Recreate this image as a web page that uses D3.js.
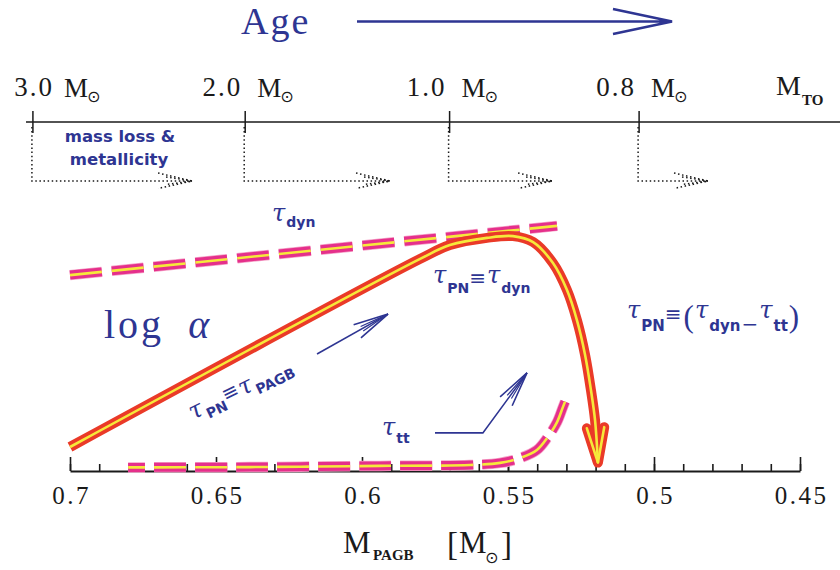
<!DOCTYPE html>
<html><head><meta charset="utf-8">
<script src="https://cdn.jsdelivr.net/npm/d3@7"></script>
<style>
html,body{margin:0;padding:0;background:#fff;}
svg{display:block;}
</style></head><body>
<svg id="chart" width="840" height="570"></svg>
<script>
// ---------------- data ----------------
const xTickValues = [0.7, 0.65, 0.6, 0.55, 0.5, 0.45];
const xTickLabels = ["0.7", "0.65", "0.6", "0.55", "0.5", "0.45"];
const turnoffLabels = ["3.0", "2.0", "1.0", "0.8"];
const turnoffFinalMass = [0.7127, 0.640, 0.570, 0.5051];   // M_PAGB reached by each turn-off mass
const shiftedFinalMass = [0.6582, 0.5904, 0.5349, 0.4815];  // shift due to mass loss & metallicity

// tau_PN (solid red/yellow curve)
const pnMass     = [0.7000, 0.5801, 0.5699, 0.5572, 0.5483, 0.5414, 0.5346, 0.5298, 0.5264, 0.5236, 0.5216, 0.5202, 0.5192];
const pnLogAlpha = [0.80,   7.07,   7.53,   7.77,   7.83,   7.63,   6.93,   6.03,   5.03,   3.87,   2.70,   1.70,   0.28];

// tau_dyn (dashed, upper)
const dynMass     = [0.7000, 0.5332];
const dynLogAlpha = [6.53,   8.17];

// tau_tt (dashed, lower)
const ttMass     = [0.6801, 0.6384, 0.5938, 0.5630, 0.5527, 0.5459, 0.5401, 0.5366, 0.5332, 0.5312, 0.5295];
const ttLogAlpha = [0.12,   0.13,   0.17,   0.20,   0.27,   0.43,   0.70,   1.10,   1.63,   2.13,   2.55];

// annotation arrows (data space)
const pagbArrow = [[0.6154, 3.90], [0.5911, 5.23]];
const ttArrow   = [[0.5750, 1.27], [0.5586, 1.27], [0.5435, 3.27]];

// ---------------- setup ----------------
const BLUE = "#2e3592", RED = "#ea3a28", MAG = "#e5308b", YEL = "#f6e93a", INK = "#1a1a1a";
const svg = d3.select("#chart");
const x = d3.scaleLinear().domain([0.7, 0.45]).range([70, 800]);
const y = d3.scaleLinear().domain([0, 10]).range([471, 171]);
const zip = (a, b) => a.map((v, i) => [v, b[i]]);

const lineLin = d3.line().x(d => x(d[0])).y(d => y(d[1]));
const lineSmooth = d3.line().x(d => x(d[0])).y(d => y(d[1])).curve(d3.curveCatmullRom.alpha(0.5));

// ---------------- top: Age arrow ----------------
svg.append("text").attr("x", 241).attr("y", 34).attr("fill", BLUE)
  .style("font-family", "Liberation Serif").style("font-size", "38px").style("letter-spacing", "2px").text("Age");
svg.append("path").attr("d", "M357,21.5H672M613,9L672,21.5L613,34")
  .attr("fill", "none").attr("stroke", BLUE).attr("stroke-width", 2.6);

// ---------------- top axis (turn-off mass) ----------------
const topY = 122;
svg.append("line").attr("x1", 26).attr("x2", 840).attr("y1", topY).attr("y2", topY)
  .attr("stroke", INK).attr("stroke-width", 1.5);
turnoffLabels.forEach((lab, i) => {
  const tx = x(turnoffFinalMass[i]);
  svg.append("line").attr("x1", tx).attr("x2", tx).attr("y1", topY - 11).attr("y2", topY + 11)
    .attr("stroke", INK).attr("stroke-width", 1.5);
  const numEnd = Math.max(tx - 5, 52);
  svg.append("text").attr("x", numEnd + 2).attr("y", 96).attr("text-anchor", "end").attr("fill", INK)
    .style("font-family", "Liberation Serif").style("font-size", "27px").style("letter-spacing", "2px").text(lab);
  const mX = numEnd + (i === 0 ? 12 : 17);
  svg.append("text").attr("x", mX).attr("y", 97).attr("fill", INK)
    .style("font-family", "Liberation Serif").style("font-size", "27px").text("M");
  svg.append("text").attr("x", mX + 23).attr("y", 102).attr("fill", INK)
    .style("font-family", "DejaVu Sans").style("font-size", "16px").text("⊙");
  // dotted shift arrow
  const x2 = x(shiftedFinalMass[i]), yy = 181;
  const dotted = svg.append("g").attr("fill", "none").attr("stroke", INK)
    .attr("stroke-width", 1.5).attr("stroke-dasharray", "1.5,2.6");
  dotted.append("path").attr("d", `M${tx - 1},${topY + 5}V${yy}H${x2}`);
  dotted.append("path").attr("d", `M${x2 - 34},${yy - 8}L${x2},${yy}L${x2 - 34},${yy + 7.5}`);
  dotted.append("path").attr("d", `M${x2 - 26},${yy - 4}L${x2},${yy}L${x2 - 26},${yy + 3.5}`);
});
svg.append("text").attr("x", 776).attr("y", 95).attr("fill", INK)
  .style("font-family", "Liberation Serif").style("font-size", "28px").text("M");
svg.append("text").attr("x", 802).attr("y", 105).attr("fill", INK)
  .style("font-family", "Liberation Serif").style("font-weight", "bold").style("font-size", "15px").text("TO");

svg.append("text").attr("x", 120).attr("y", 142).attr("text-anchor", "middle").attr("fill", BLUE)
  .style("font-family", "DejaVu Sans").style("font-weight", "bold").style("font-size", "16.5px").text("mass loss &");
svg.append("text").attr("x", 119).attr("y", 165).attr("text-anchor", "middle").attr("fill", BLUE)
  .style("font-family", "DejaVu Sans").style("font-weight", "bold").style("font-size", "16.5px").text("metallicity");

// ---------------- bottom axis ----------------
const axisG = svg.append("g").attr("transform", `translate(0,${y(0)})`);
axisG.append("g").call(d3.axisBottom(x).tickValues(d3.range(0.45, 0.7001, 0.01)).tickSizeInner(-7).tickSizeOuter(0).tickFormat(""))
  .call(g => g.select(".domain").remove());
const major = axisG.append("g").call(d3.axisBottom(x).tickValues(xTickValues)
  .tickFormat((d, i) => xTickLabels[i]).tickSizeInner(-14).tickSizeOuter(0).tickPadding(15));
axisG.selectAll("line").attr("stroke", INK).attr("stroke-width", 1.6);
major.select(".domain").attr("stroke", INK).attr("stroke-width", 1.8);
major.selectAll("text").attr("fill", INK).style("font-family", "Liberation Serif")
  .style("font-size", "25px").style("letter-spacing", "2.5px").attr("dx", "1px");

// axis title
const tt = (xx, yy, txt, fam, size, weight) => svg.append("text").attr("x", xx).attr("y", yy).attr("fill", INK)
  .style("font-family", fam).style("font-size", size + "px").style("font-weight", weight || "normal").text(txt);
tt(343, 553, "M", "Liberation Serif", 31);
tt(373, 560, "PAGB", "Liberation Serif", 15, "bold");
tt(447, 555, "[", "Liberation Serif", 33);
tt(459, 553, "M", "Liberation Serif", 31);
tt(485, 563, "⊙", "DejaVu Sans", 16);
tt(501, 555, "]", "Liberation Serif", 33);

// y label
const ly = svg.append("text").attr("x", 104).attr("y", 338).attr("fill", BLUE)
  .style("font-family", "Liberation Serif").style("font-size", "40px");
ly.append("tspan").style("letter-spacing", "3px").text("log");
ly.append("tspan").attr("dx", 24).style("font-style", "italic").text("α");

// ---------------- curves ----------------
function doubleStroke(path, outer, outerW, innerW, dash, offset, cap) {
  [[outer, outerW], [YEL, innerW]].forEach(([c, w]) => {
    svg.append("path").attr("d", path).attr("fill", "none").attr("stroke", c).attr("stroke-width", w)
      .attr("stroke-dasharray", dash || null).attr("stroke-dashoffset", offset || 0)
      .attr("stroke-linecap", cap || "butt").attr("stroke-linejoin", "round");
  });
}
// tau_dyn
svg.append("path").attr("d", lineLin(zip(dynMass, dynLogAlpha))).attr("fill", "none")
  .attr("stroke", "#f5a3c8").attr("stroke-width", 10.5).attr("stroke-dasharray", "32,10");
doubleStroke(lineLin(zip(dynMass, dynLogAlpha)), MAG, 9, 2.6, "32,10", 0);
// tau_tt
svg.append("path").attr("d", lineSmooth(zip(ttMass, ttLogAlpha))).attr("fill", "none")
  .attr("stroke", "#f5a3c8").attr("stroke-width", 10.5).attr("stroke-dasharray", "32,9").attr("stroke-dashoffset", 15);
doubleStroke(lineSmooth(zip(ttMass, ttLogAlpha)), MAG, 9, 2.6, "32,9", 15);

// tau_PN solid with arrowhead
const pnPts = zip(pnMass, pnLogAlpha);
const pnPath = lineSmooth(pnPts);
const tip = [x(pnMass[pnMass.length - 1]), y(pnLogAlpha[pnLogAlpha.length - 1])];
const prev = [x(pnMass[pnMass.length - 2]), y(pnLogAlpha[pnLogAlpha.length - 2])];
function wings(tipP, prevP, L, deg) {
  const a = Math.atan2(prevP[1] - tipP[1], prevP[0] - tipP[0]), r = deg * Math.PI / 180;
  return [[tipP[0] + L * Math.cos(a + r), tipP[1] + L * Math.sin(a + r)], tipP,
          [tipP[0] + L * Math.cos(a - r), tipP[1] + L * Math.sin(a - r)]];
}
const head = wings(tip, prev, 36, 14);
const headPath = d3.line()(head);
[[RED, 10], [YEL, 2.6]].forEach(([c, w]) => {
  svg.append("path").attr("d", pnPath).attr("fill", "none").attr("stroke", c).attr("stroke-width", w)
    .attr("stroke-linejoin", "round");
  svg.append("path").attr("d", headPath).attr("fill", "none").attr("stroke", c).attr("stroke-width", w)
    .attr("stroke-linejoin", "round").attr("stroke-linecap", "round");
});

// ---------------- annotation arrows ----------------
function blueArrow(pts) {
  const px = pts.map(p => [x(p[0]), y(p[1])]);
  svg.append("path").attr("d", d3.line()(px)).attr("fill", "none").attr("stroke", BLUE).attr("stroke-width", 1.6);
  const h = wings(px[px.length - 1], px[px.length - 2], 36, 12);
  svg.append("path").attr("d", d3.line()(h)).attr("fill", "none").attr("stroke", BLUE).attr("stroke-width", 1.6);
  const h2 = wings(px[px.length - 1], px[px.length - 2], 30, 5);
  svg.append("path").attr("d", d3.line()(h2)).attr("fill", "none").attr("stroke", BLUE).attr("stroke-width", 1.2);
}
blueArrow(pagbArrow);
blueArrow(ttArrow);

// ---------------- math labels ----------------
const FONTS = {
  tau: { family: "DejaVu Serif", size: 24, style: "italic" },
  sub: { family: "DejaVu Sans", size: 14, weight: "bold" },
  subL: { family: "DejaVu Sans", size: 15, weight: "bold" },
  eq: { family: "DejaVu Sans", size: 20 },
  par: { family: "Liberation Serif", size: 31 },
  minus: { family: "DejaVu Sans", size: 20 }
};
function mathLabel(x0, y0, rot, parts) {
  const t = svg.append("text").attr("transform", `translate(${x0},${y0}) rotate(${rot})`).attr("fill", BLUE);
  parts.forEach(p => {
    const f = FONTS[p.k];
    t.append("tspan").attr("y", p.y || 0).attr("dx", p.dx || 0)
      .style("font-family", f.family).style("font-size", f.size + "px")
      .style("font-style", f.style || "normal").style("font-weight", f.weight || "normal").text(p.t);
  });
}
mathLabel(272, 221, 0, [{ t: "τ", k: "tau" }, { t: "dyn", k: "sub", y: 6, dx: 1 }]);
mathLabel(433, 283, 0, [{ t: "τ", k: "tau" }, { t: "PN", k: "sub", y: 10, dx: 1 }, { t: "≡", k: "eq", y: 2 },
  { t: "τ", k: "tau", dx: 1 }, { t: "dyn", k: "sub", y: 10, dx: 1 }]);
mathLabel(627, 318, 0, [{ t: "τ", k: "tau" }, { t: "PN", k: "subL", y: 13, dx: 1 }, { t: "≡", k: "eq", y: 3 },
  { t: "(", k: "par", y: 9, dx: 2 }, { t: "τ", k: "tau", dx: 1 }, { t: "dyn", k: "subL", y: 13, dx: 1 },
  { t: "−", k: "minus", y: 13, dx: 1 }, { t: "τ", k: "tau", dx: 1 }, { t: "tt", k: "subL", y: 13, dx: 1 },
  { t: ")", k: "par", y: 9, dx: 1 }]);
mathLabel(382, 435, 0, [{ t: "τ", k: "tau" }, { t: "tt", k: "sub", y: 8, dx: 1 }]);
mathLabel(193, 420, -26, [{ t: "τ", k: "tau" }, { t: "PN", k: "sub", y: 6, dx: 2 }, { t: "≡", k: "eq", y: -2 },
  { t: "τ", k: "tau", dx: 1 }, { t: "PAGB", k: "sub", y: 6, dx: 2 }]);
</script>
</body></html>
